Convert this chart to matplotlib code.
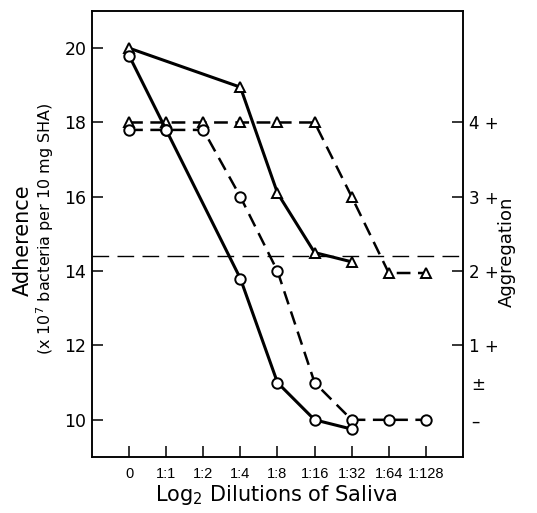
import matplotlib
matplotlib.use("Agg")
from matplotlib import pyplot as plt

# dilution steps on the x axis
dilutions = ['0', '1:1', '1:2', '1:4', '1:8', '1:16', '1:32', '1:64', '1:128']

# series (left axis units)
solid_tri_x = [0, 3, 4, 5, 6]
solid_tri_y = [20.0, 18.95, 16.1, 14.5, 14.25]

solid_circ_x = [0, 1, 3, 4, 5, 6]
solid_circ_y = [19.8, 17.8, 13.8, 11.0, 10.0, 9.75]

dash_tri_x = [0, 1, 2, 3, 4, 5, 6, 7, 8]
dash_tri_y = [18.0, 18.0, 18.0, 18.0, 18.0, 18.0, 16.0, 13.95, 13.95]

dash_circ_x = [0, 1, 2, 3, 4, 5, 6, 7, 8]
dash_circ_y = [17.8, 17.8, 17.8, 16.0, 14.0, 11.0, 10.0, 10.0, 10.0]

threshold = 14.4

left_ticks = [10, 12, 14, 16, 18, 20]
agg_ticks = [18, 16, 14, 12]
agg_labels = ['4 +', '3 +', '2 +', '1 +']
agg_extra = [11, 10]
agg_extra_labels = ['\u00b1', '\u2013']

fig = plt.figure(figsize=(5.37, 5.13), dpi=100)
ax = fig.add_axes([0.1713, 0.1092, 0.6909, 0.8694])

ax.axhline(threshold, color='black', lw=1.0, ls=(0, (12, 6)), zorder=1)

mk = dict(markerfacecolor='white', markeredgecolor='black', markeredgewidth=1.4, color='black', zorder=3)
dash = (0, (5.5, 3))

ax.plot(dash_tri_x, dash_tri_y, ls=dash, lw=1.8, marker='^', markersize=7.5, **mk)
ax.plot(dash_circ_x, dash_circ_y, ls=dash, lw=1.8, marker='o', markersize=7.5, **mk)
ax.plot(solid_tri_x, solid_tri_y, ls='-', lw=2.2, marker='^', markersize=7.5, **mk)
ax.plot(solid_circ_x, solid_circ_y, ls='-', lw=2.2, marker='o', markersize=7.5, **mk)

ax.set_xlim(-1, 9)
ax.set_ylim(9, 21)
ax.set_xticks(range(len(dilutions)))
ax.set_xticklabels(dilutions, family=['Liberation Sans', 'DejaVu Sans'], fontsize=10.5)
ax.set_yticks(left_ticks)
ax.tick_params(axis='y', direction='in', length=8, width=1.1, pad=4, labelsize=12.5)
ax.tick_params(axis='x', direction='in', length=8, width=1.1, pad=7)
for s in ax.spines.values():
    s.set_linewidth(1.1)

ax2 = ax.twinx()
ax2.set_ylim(9, 21)
ax2.set_yticks(agg_ticks)
ax2.set_yticklabels(agg_labels)
ax2.set_yticks(agg_extra, minor=True)
ax2.set_yticklabels(agg_extra_labels, minor=True)
ax2.tick_params(axis='y', which='major', direction='in', length=8, width=1.1, pad=4, labelsize=12)
ax2.tick_params(axis='y', which='minor', length=0, pad=6, labelsize=12)
for s in ax2.spines.values():
    s.set_linewidth(1.1)

fig.text(0.043, 0.532, 'Adherence', rotation=90, ha='center', va='center', fontsize=15)
fig.text(0.084, 0.554, '(x 10$^7$ bacteria per 10 mg SHA)', rotation=90, ha='center', va='center', fontsize=11.5)
fig.text(0.944, 0.509, 'Aggregation', rotation=90, ha='center', va='center', fontsize=13)
fig.text(0.515, 0.035, 'Log$_2$ Dilutions of Saliva', ha='center', va='center', fontsize=15)

fig.savefig('out.png', dpi=100)
